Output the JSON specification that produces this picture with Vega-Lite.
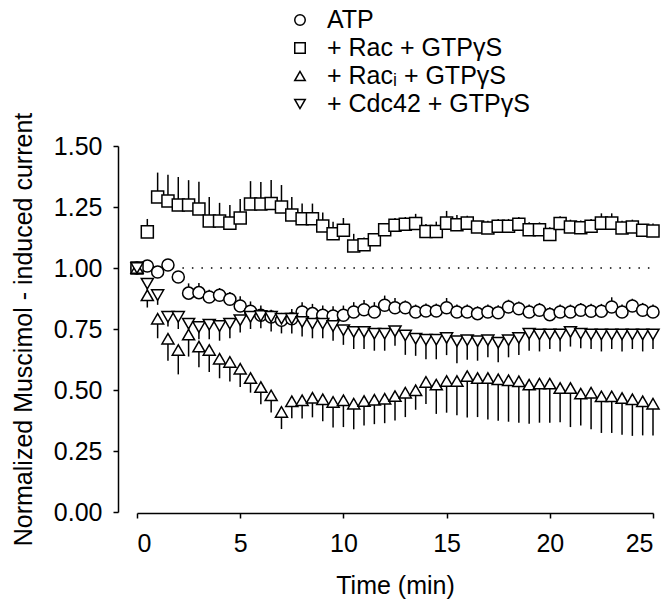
{
  "$schema": "https://vega.github.io/schema/vega-lite/v6.json",
  "autosize": {"type": "pad"},
  "padding": {"left": 11, "top": 6, "right": 4, "bottom": 4},
  "background": "white",
  "bounds": "flush",
  "spacing": 28,
  "config": {
    "font": "Liberation Sans",
    "view": {"stroke": null},
    "axis": {
      "domainColor": "black", "domainWidth": 1.5, "tickColor": "black", "tickWidth": 1.5, "tickSize": 5,
      "labelFontSize": 25, "titleFontSize": 25, "labelColor": "black", "titleColor": "black",
      "titleFontWeight": "normal", "grid": false, "labelFont": "Liberation Sans", "titleFont": "Liberation Sans"
    }
  },
  "datasets": {
    "leg": [{"s": "ATP"}, {"s": "+ Rac + GTPγS"}, {"s": "+ Racᵢ + GTPγS"}, {"s": "+ Cdc42 + GTPγS"}],
    "ref": [{"x1": 2.2, "x2": 25, "y": 1}],
    "pts": [
      {"s":"ATP","t":0,"v":1,"b":1},{"s":"ATP","t":0.5,"v":1.008,"b":1.018},{"s":"ATP","t":1,"v":0.984,"b":0.994},{"s":"ATP","t":1.5,"v":1.012,"b":1.022},{"s":"ATP","t":2,"v":0.963,"b":0.983},{"s":"ATP","t":2.5,"v":0.897,"b":0.937},{"s":"ATP","t":3,"v":0.899,"b":0.939},{"s":"ATP","t":3.5,"v":0.881,"b":0.911},{"s":"ATP","t":4,"v":0.888,"b":0.918},{"s":"ATP","t":4.5,"v":0.872,"b":0.902},{"s":"ATP","t":5,"v":0.844,"b":0.884},{"s":"ATP","t":5.5,"v":0.823,"b":0.863},{"s":"ATP","t":6,"v":0.806,"b":0.846},{"s":"ATP","t":6.5,"v":0.799,"b":0.829},{"s":"ATP","t":7,"v":0.786,"b":0.816},{"s":"ATP","t":7.5,"v":0.792,"b":0.832},{"s":"ATP","t":8,"v":0.82,"b":0.86},{"s":"ATP","t":8.5,"v":0.813,"b":0.853},{"s":"ATP","t":9,"v":0.806,"b":0.846},{"s":"ATP","t":9.5,"v":0.803,"b":0.843},{"s":"ATP","t":10,"v":0.806,"b":0.846},{"s":"ATP","t":10.5,"v":0.82,"b":0.86},{"s":"ATP","t":11,"v":0.829,"b":0.869},{"s":"ATP","t":11.5,"v":0.82,"b":0.86},{"s":"ATP","t":12,"v":0.847,"b":0.887},{"s":"ATP","t":12.5,"v":0.837,"b":0.877},{"s":"ATP","t":13,"v":0.837,"b":0.867},{"s":"ATP","t":13.5,"v":0.82,"b":0.85},{"s":"ATP","t":14,"v":0.824,"b":0.854},{"s":"ATP","t":14.5,"v":0.824,"b":0.854},{"s":"ATP","t":15,"v":0.837,"b":0.877},{"s":"ATP","t":15.5,"v":0.82,"b":0.85},{"s":"ATP","t":16,"v":0.82,"b":0.85},{"s":"ATP","t":16.5,"v":0.813,"b":0.843},{"s":"ATP","t":17,"v":0.82,"b":0.85},{"s":"ATP","t":17.5,"v":0.817,"b":0.847},{"s":"ATP","t":18,"v":0.84,"b":0.87},{"s":"ATP","t":18.5,"v":0.833,"b":0.863},{"s":"ATP","t":19,"v":0.82,"b":0.85},{"s":"ATP","t":19.5,"v":0.827,"b":0.857},{"s":"ATP","t":20,"v":0.809,"b":0.839},{"s":"ATP","t":20.5,"v":0.82,"b":0.85},{"s":"ATP","t":21,"v":0.82,"b":0.85},{"s":"ATP","t":21.5,"v":0.827,"b":0.857},{"s":"ATP","t":22,"v":0.823,"b":0.853},{"s":"ATP","t":22.5,"v":0.823,"b":0.853},{"s":"ATP","t":23,"v":0.84,"b":0.88},{"s":"ATP","t":23.5,"v":0.82,"b":0.85},{"s":"ATP","t":24,"v":0.844,"b":0.874},{"s":"ATP","t":24.5,"v":0.827,"b":0.857},{"s":"ATP","t":25,"v":0.82,"b":0.85},
      {"s":"+ Rac + GTPγS","t":0,"v":1,"b":1},{"s":"+ Rac + GTPγS","t":0.5,"v":1.148,"b":1.201},{"s":"+ Rac + GTPγS","t":1,"v":1.291,"b":1.391},{"s":"+ Rac + GTPγS","t":1.5,"v":1.275,"b":1.382},{"s":"+ Rac + GTPγS","t":2,"v":1.258,"b":1.373},{"s":"+ Rac + GTPγS","t":2.5,"v":1.258,"b":1.36},{"s":"+ Rac + GTPγS","t":3,"v":1.242,"b":1.353},{"s":"+ Rac + GTPγS","t":3.5,"v":1.193,"b":1.291},{"s":"+ Rac + GTPγS","t":4,"v":1.193,"b":1.267},{"s":"+ Rac + GTPγS","t":4.5,"v":1.184,"b":1.258},{"s":"+ Rac + GTPγS","t":5,"v":1.205,"b":1.283},{"s":"+ Rac + GTPγS","t":5.5,"v":1.262,"b":1.356},{"s":"+ Rac + GTPγS","t":6,"v":1.262,"b":1.352},{"s":"+ Rac + GTPγS","t":6.5,"v":1.264,"b":1.361},{"s":"+ Rac + GTPγS","t":7,"v":1.25,"b":1.34},{"s":"+ Rac + GTPγS","t":7.5,"v":1.217,"b":1.291},{"s":"+ Rac + GTPγS","t":8,"v":1.202,"b":1.264},{"s":"+ Rac + GTPγS","t":8.5,"v":1.202,"b":1.264},{"s":"+ Rac + GTPγS","t":9,"v":1.172,"b":1.227},{"s":"+ Rac + GTPγS","t":9.5,"v":1.14,"b":1.19},{"s":"+ Rac + GTPγS","t":10,"v":1.155,"b":1.205},{"s":"+ Rac + GTPγS","t":10.5,"v":1.09,"b":1.14},{"s":"+ Rac + GTPγS","t":11,"v":1.095,"b":1.125},{"s":"+ Rac + GTPγS","t":11.5,"v":1.116,"b":1.136},{"s":"+ Rac + GTPγS","t":12,"v":1.157,"b":1.177},{"s":"+ Rac + GTPγS","t":12.5,"v":1.175,"b":1.205},{"s":"+ Rac + GTPγS","t":13,"v":1.179,"b":1.209},{"s":"+ Rac + GTPγS","t":13.5,"v":1.182,"b":1.222},{"s":"+ Rac + GTPγS","t":14,"v":1.15,"b":1.18},{"s":"+ Rac + GTPγS","t":14.5,"v":1.15,"b":1.19},{"s":"+ Rac + GTPγS","t":15,"v":1.184,"b":1.234},{"s":"+ Rac + GTPγS","t":15.5,"v":1.177,"b":1.217},{"s":"+ Rac + GTPγS","t":16,"v":1.184,"b":1.214},{"s":"+ Rac + GTPγS","t":16.5,"v":1.168,"b":1.188},{"s":"+ Rac + GTPγS","t":17,"v":1.164,"b":1.194},{"s":"+ Rac + GTPγS","t":17.5,"v":1.171,"b":1.201},{"s":"+ Rac + GTPγS","t":18,"v":1.171,"b":1.201},{"s":"+ Rac + GTPγS","t":18.5,"v":1.179,"b":1.209},{"s":"+ Rac + GTPγS","t":19,"v":1.157,"b":1.187},{"s":"+ Rac + GTPγS","t":19.5,"v":1.157,"b":1.187},{"s":"+ Rac + GTPγS","t":20,"v":1.137,"b":1.167},{"s":"+ Rac + GTPγS","t":20.5,"v":1.182,"b":1.212},{"s":"+ Rac + GTPγS","t":21,"v":1.168,"b":1.198},{"s":"+ Rac + GTPγS","t":21.5,"v":1.165,"b":1.195},{"s":"+ Rac + GTPγS","t":22,"v":1.171,"b":1.201},{"s":"+ Rac + GTPγS","t":22.5,"v":1.184,"b":1.224},{"s":"+ Rac + GTPγS","t":23,"v":1.184,"b":1.224},{"s":"+ Rac + GTPγS","t":23.5,"v":1.164,"b":1.194},{"s":"+ Rac + GTPγS","t":24,"v":1.168,"b":1.198},{"s":"+ Rac + GTPγS","t":24.5,"v":1.155,"b":1.175},{"s":"+ Rac + GTPγS","t":25,"v":1.152,"b":1.182},
      {"s":"+ Racᵢ + GTPγS","t":0,"v":1,"b":1},{"s":"+ Racᵢ + GTPγS","t":0.5,"v":0.888,"b":0.838},{"s":"+ Racᵢ + GTPγS","t":1,"v":0.792,"b":0.712},{"s":"+ Racᵢ + GTPγS","t":1.5,"v":0.71,"b":0.62},{"s":"+ Racᵢ + GTPγS","t":2,"v":0.664,"b":0.564},{"s":"+ Racᵢ + GTPγS","t":2.5,"v":0.727,"b":0.637},{"s":"+ Racᵢ + GTPγS","t":3,"v":0.678,"b":0.593},{"s":"+ Racᵢ + GTPγS","t":3.5,"v":0.664,"b":0.574},{"s":"+ Racᵢ + GTPγS","t":4,"v":0.628,"b":0.548},{"s":"+ Racᵢ + GTPγS","t":4.5,"v":0.615,"b":0.535},{"s":"+ Racᵢ + GTPγS","t":5,"v":0.587,"b":0.512},{"s":"+ Racᵢ + GTPγS","t":5.5,"v":0.549,"b":0.489},{"s":"+ Racᵢ + GTPγS","t":6,"v":0.512,"b":0.442},{"s":"+ Racᵢ + GTPγS","t":6.5,"v":0.478,"b":0.408},{"s":"+ Racᵢ + GTPγS","t":7,"v":0.41,"b":0.34},{"s":"+ Racᵢ + GTPγS","t":7.5,"v":0.454,"b":0.384},{"s":"+ Racᵢ + GTPγS","t":8,"v":0.458,"b":0.383},{"s":"+ Racᵢ + GTPγS","t":8.5,"v":0.468,"b":0.388},{"s":"+ Racᵢ + GTPγS","t":9,"v":0.462,"b":0.372},{"s":"+ Racᵢ + GTPγS","t":9.5,"v":0.451,"b":0.346},{"s":"+ Racᵢ + GTPγS","t":10,"v":0.458,"b":0.348},{"s":"+ Racᵢ + GTPγS","t":10.5,"v":0.444,"b":0.339},{"s":"+ Racᵢ + GTPγS","t":11,"v":0.455,"b":0.355},{"s":"+ Racᵢ + GTPγS","t":11.5,"v":0.46,"b":0.36},{"s":"+ Racᵢ + GTPγS","t":12,"v":0.464,"b":0.364},{"s":"+ Racᵢ + GTPγS","t":12.5,"v":0.475,"b":0.375},{"s":"+ Racᵢ + GTPγS","t":13,"v":0.489,"b":0.389},{"s":"+ Racᵢ + GTPγS","t":13.5,"v":0.499,"b":0.419},{"s":"+ Racᵢ + GTPγS","t":14,"v":0.533,"b":0.443},{"s":"+ Racᵢ + GTPγS","t":14.5,"v":0.522,"b":0.402},{"s":"+ Racᵢ + GTPγS","t":15,"v":0.537,"b":0.407},{"s":"+ Racᵢ + GTPγS","t":15.5,"v":0.537,"b":0.397},{"s":"+ Racᵢ + GTPγS","t":16,"v":0.557,"b":0.387},{"s":"+ Racᵢ + GTPγS","t":16.5,"v":0.549,"b":0.389},{"s":"+ Racᵢ + GTPγS","t":17,"v":0.549,"b":0.379},{"s":"+ Racᵢ + GTPγS","t":17.5,"v":0.544,"b":0.374},{"s":"+ Racᵢ + GTPγS","t":18,"v":0.54,"b":0.37},{"s":"+ Racᵢ + GTPγS","t":18.5,"v":0.536,"b":0.366},{"s":"+ Racᵢ + GTPγS","t":19,"v":0.522,"b":0.362},{"s":"+ Racᵢ + GTPγS","t":19.5,"v":0.526,"b":0.366},{"s":"+ Racᵢ + GTPγS","t":20,"v":0.526,"b":0.366},{"s":"+ Racᵢ + GTPγS","t":20.5,"v":0.508,"b":0.368},{"s":"+ Racᵢ + GTPγS","t":21,"v":0.508,"b":0.348},{"s":"+ Racᵢ + GTPγS","t":21.5,"v":0.485,"b":0.355},{"s":"+ Racᵢ + GTPγS","t":22,"v":0.489,"b":0.339},{"s":"+ Racᵢ + GTPγS","t":22.5,"v":0.474,"b":0.324},{"s":"+ Racᵢ + GTPγS","t":23,"v":0.474,"b":0.324},{"s":"+ Racᵢ + GTPγS","t":23.5,"v":0.467,"b":0.317},{"s":"+ Racᵢ + GTPγS","t":24,"v":0.462,"b":0.312},{"s":"+ Racᵢ + GTPγS","t":24.5,"v":0.454,"b":0.314},{"s":"+ Racᵢ + GTPγS","t":25,"v":0.444,"b":0.314},
      {"s":"+ Cdc42 + GTPγS","t":0,"v":1,"b":1},{"s":"+ Cdc42 + GTPγS","t":0.5,"v":0.936,"b":0.906},{"s":"+ Cdc42 + GTPγS","t":1,"v":0.889,"b":0.849},{"s":"+ Cdc42 + GTPγS","t":1.5,"v":0.8,"b":0.76},{"s":"+ Cdc42 + GTPγS","t":2,"v":0.8,"b":0.75},{"s":"+ Cdc42 + GTPγS","t":2.5,"v":0.772,"b":0.722},{"s":"+ Cdc42 + GTPγS","t":3,"v":0.758,"b":0.708},{"s":"+ Cdc42 + GTPγS","t":3.5,"v":0.768,"b":0.708},{"s":"+ Cdc42 + GTPγS","t":4,"v":0.762,"b":0.702},{"s":"+ Cdc42 + GTPγS","t":4.5,"v":0.772,"b":0.712},{"s":"+ Cdc42 + GTPγS","t":5,"v":0.786,"b":0.736},{"s":"+ Cdc42 + GTPγS","t":5.5,"v":0.8,"b":0.75},{"s":"+ Cdc42 + GTPγS","t":6,"v":0.803,"b":0.753},{"s":"+ Cdc42 + GTPγS","t":6.5,"v":0.8,"b":0.74},{"s":"+ Cdc42 + GTPγS","t":7,"v":0.792,"b":0.732},{"s":"+ Cdc42 + GTPγS","t":7.5,"v":0.792,"b":0.732},{"s":"+ Cdc42 + GTPγS","t":8,"v":0.779,"b":0.719},{"s":"+ Cdc42 + GTPγS","t":8.5,"v":0.772,"b":0.712},{"s":"+ Cdc42 + GTPγS","t":9,"v":0.772,"b":0.712},{"s":"+ Cdc42 + GTPγS","t":9.5,"v":0.762,"b":0.702},{"s":"+ Cdc42 + GTPγS","t":10,"v":0.745,"b":0.685},{"s":"+ Cdc42 + GTPγS","t":10.5,"v":0.738,"b":0.668},{"s":"+ Cdc42 + GTPγS","t":11,"v":0.738,"b":0.668},{"s":"+ Cdc42 + GTPγS","t":11.5,"v":0.731,"b":0.661},{"s":"+ Cdc42 + GTPγS","t":12,"v":0.731,"b":0.661},{"s":"+ Cdc42 + GTPγS","t":12.5,"v":0.741,"b":0.681},{"s":"+ Cdc42 + GTPγS","t":13,"v":0.724,"b":0.644},{"s":"+ Cdc42 + GTPγS","t":13.5,"v":0.71,"b":0.64},{"s":"+ Cdc42 + GTPγS","t":14,"v":0.706,"b":0.626},{"s":"+ Cdc42 + GTPγS","t":14.5,"v":0.706,"b":0.626},{"s":"+ Cdc42 + GTPγS","t":15,"v":0.713,"b":0.643},{"s":"+ Cdc42 + GTPγS","t":15.5,"v":0.7,"b":0.61},{"s":"+ Cdc42 + GTPγS","t":16,"v":0.704,"b":0.624},{"s":"+ Cdc42 + GTPγS","t":16.5,"v":0.7,"b":0.62},{"s":"+ Cdc42 + GTPγS","t":17,"v":0.704,"b":0.634},{"s":"+ Cdc42 + GTPγS","t":17.5,"v":0.694,"b":0.614},{"s":"+ Cdc42 + GTPγS","t":18,"v":0.704,"b":0.634},{"s":"+ Cdc42 + GTPγS","t":18.5,"v":0.713,"b":0.643},{"s":"+ Cdc42 + GTPγS","t":19,"v":0.731,"b":0.661},{"s":"+ Cdc42 + GTPγS","t":19.5,"v":0.728,"b":0.658},{"s":"+ Cdc42 + GTPγS","t":20,"v":0.728,"b":0.668},{"s":"+ Cdc42 + GTPγS","t":20.5,"v":0.728,"b":0.658},{"s":"+ Cdc42 + GTPγS","t":21,"v":0.738,"b":0.678},{"s":"+ Cdc42 + GTPγS","t":21.5,"v":0.731,"b":0.671},{"s":"+ Cdc42 + GTPγS","t":22,"v":0.728,"b":0.668},{"s":"+ Cdc42 + GTPγS","t":22.5,"v":0.728,"b":0.658},{"s":"+ Cdc42 + GTPγS","t":23,"v":0.728,"b":0.668},{"s":"+ Cdc42 + GTPγS","t":23.5,"v":0.728,"b":0.658},{"s":"+ Cdc42 + GTPγS","t":24,"v":0.728,"b":0.668},{"s":"+ Cdc42 + GTPγS","t":24.5,"v":0.728,"b":0.658},{"s":"+ Cdc42 + GTPγS","t":25,"v":0.728,"b":0.668}
    ]
  },
  "vconcat": [
    {
      "width": 326,
      "height": 112,
      "data": {"name": "leg"},
      "layer": [
        {
          "mark": {"type": "point", "filled": false, "fill": "white", "stroke": "black", "strokeWidth": 1.5, "size": 110, "opacity": 1, "fillOpacity": 1},
          "encoding": {
            "y": {"field": "s", "type": "nominal", "sort": null, "axis": null,
                  "scale": {"type": "point", "domain": ["ATP", "+ Rac + GTPγS", "+ Racᵢ + GTPγS", "+ Cdc42 + GTPγS"], "padding": 0.5}},
            "shape": {"field": "s", "type": "nominal", "legend": null,
                      "scale": {"domain": ["ATP", "+ Rac + GTPγS", "+ Racᵢ + GTPγS", "+ Cdc42 + GTPγS"], "range": ["circle", "square", "triangle-up", "triangle-down"]}}
          }
        },
        {
          "mark": {"type": "text", "align": "left", "baseline": "middle", "dx": 27, "fontSize": 25, "font": "Liberation Sans", "color": "black"},
          "encoding": {
            "y": {"field": "s", "type": "nominal", "sort": null, "axis": null},
            "text": {"field": "s", "type": "nominal"}
          }
        }
      ]
    },
    {
      "width": 516,
      "height": 366,
      "layer": [
        {
          "data": {"name": "ref"},
          "mark": {"type": "rule", "color": "black", "strokeWidth": 1.5, "strokeDash": [1.5, 8]},
          "encoding": {
            "x": {"field": "x1", "type": "quantitative", "scale": {"domain": [0, 25], "nice": false},
                  "axis": {"offset": 1, "values": [0, 5, 10, 15, 20, 25], "format": "d", "title": "Time (min)", "labelPadding": 13, "titlePadding": 17}},
            "x2": {"field": "x2"},
            "y": {"field": "y", "type": "quantitative", "scale": {"domain": [0, 1.5], "nice": false},
                  "axis": {"offset": 19, "values": [0, 0.25, 0.5, 0.75, 1, 1.25, 1.5], "format": ".2f", "title": "Normalized Muscimol - induced current", "labelPadding": 11, "titlePadding": 17}}
          }
        },
        {
          "data": {"name": "pts"},
          "mark": {"type": "rule", "color": "black", "strokeWidth": 1.5},
          "encoding": {
            "x": {"field": "t", "type": "quantitative"},
            "y": {"field": "v", "type": "quantitative"},
            "y2": {"field": "b"}
          }
        },
        {
          "data": {"name": "pts"},
          "mark": {"type": "point", "filled": false, "fill": "white", "stroke": "black", "strokeWidth": 1.5, "size": 145, "opacity": 1, "fillOpacity": 1},
          "encoding": {
            "x": {"field": "t", "type": "quantitative"},
            "y": {"field": "v", "type": "quantitative"},
            "shape": {"field": "s", "type": "nominal", "legend": null,
                      "scale": {"domain": ["ATP", "+ Rac + GTPγS", "+ Racᵢ + GTPγS", "+ Cdc42 + GTPγS"], "range": ["circle", "square", "triangle-up", "triangle-down"]}}
          }
        }
      ]
    }
  ]
}
